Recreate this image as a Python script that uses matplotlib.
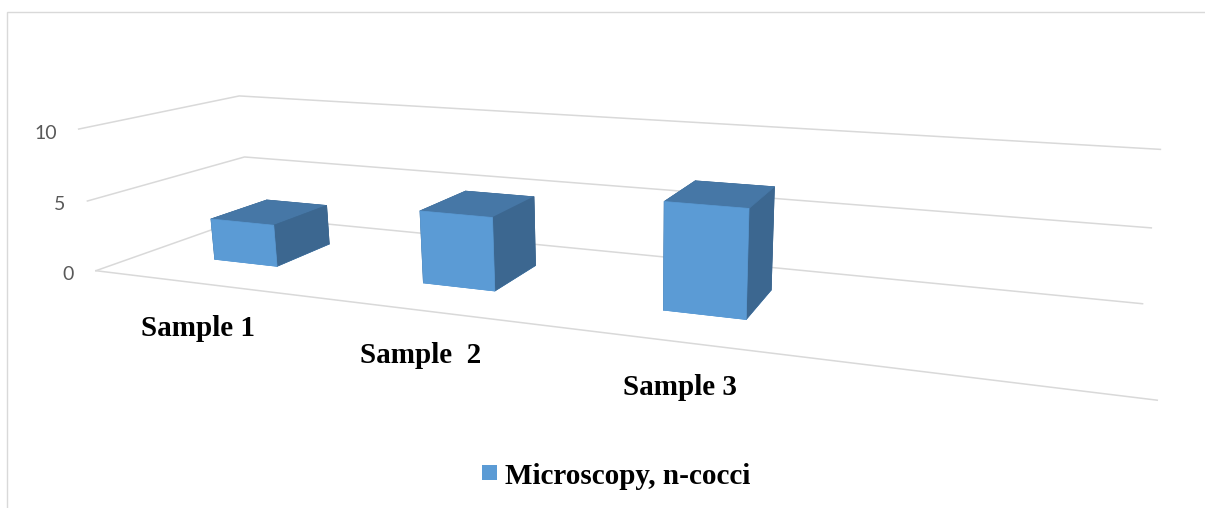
import numpy as np
import matplotlib
matplotlib.use("Agg")
import matplotlib.pyplot as plt
from matplotlib import transforms
from matplotlib.patches import Rectangle
from mpl_toolkits.mplot3d import proj3d

# ---- data ----
categories = ["Sample 1", "Sample  2", "Sample 3"]
values = [3, 5, 7]
series_name = "Microscopy, n-cocci"
value_ticks = [0, 5, 10]
n_slots = 4  # category slots along the floor; the last slot is empty

# ---- style ----
W, H = 1205, 508
front_color = "#5B9BD5"
top_color = "#4677A6"
side_color = "#3C6790"
grid_color = "#D9D9D9"
tick_color = "#595959"
bar_width = 0.313
bar_depth = 0.38
label_font = dict(family="Liberation Serif", fontweight="bold", fontsize=21, color="black")

fig = plt.figure(figsize=(W / 100, H / 100), dpi=100)
ax = fig.add_axes([0, 0, 1, 1], projection="3d", computed_zorder=False)

# gridlines on the left side wall and back wall, and the front edge of the floor
for v in value_ticks:
    ax.plot([0, 0, n_slots], [0, 1, 1], [v, v, v], color=grid_color, lw=1.1, zorder=1)
ax.plot([0, n_slots], [0, 0], [0, 0], color=grid_color, lw=1.1, zorder=1)

# the columns
n = len(values)
xs = np.arange(n) + 0.5
face_colors = []
for _ in range(n):
    # face order of bar3d: -z, +z, -y, +y, -x, +x
    face_colors += [front_color, top_color, front_color, side_color, side_color, side_color]
ax.bar3d(xs - bar_width / 2, np.full(n, 0.5 - bar_depth / 2), np.zeros(n),
         bar_width, bar_depth, values, color=face_colors, edgecolor=face_colors,
         linewidth=0.5, shade=False, zorder=2)

# box proportions and camera
kx, ky, kz = 0.1971, 0.1953, 0.01152  # relative length of one unit along x, y, z
xc, zc = 2.16, 3.34
ax.set_xlim(xc - 2.5, xc + 2.5)
ax.set_ylim(0, 1)
ax.set_zlim(zc - 7, zc + 7)
ax.set_box_aspect((5 * kx, 1 * ky, 14 * kz))
ax.view_init(elev=15, azim=-70)
ax.set_proj_type("persp", focal_length=0.1687)
ax.set_axis_off()
ax.patch.set_visible(False)
# the built-in axis texts are unused
for axis in (ax.xaxis, ax.yaxis, ax.zaxis):
    axis.label.set_visible(False)
    axis.offsetText.set_visible(False)
for t in (ax.title, ax._left_title, ax._right_title):
    t.set_visible(False)

# value labels on the left wall
for v in value_ticks:
    ax.text(0, 0, v, str(v),
            transform=transforms.offset_copy(ax.transData, fig=fig, x=-22, y=-9.5, units="dots"),
            ha="right", va="baseline", color=tick_color, fontsize=14, family="Lato")

# category labels under the floor
for x, lab in zip(xs, categories):
    ax.text(x, 0, 0, lab,
            transform=transforms.offset_copy(ax.transData, fig=fig, x=2, y=-53, units="dots"),
            ha="center", va="baseline", **label_font)

# place the plot box: corners of floor and walls -> pixel spots (from top-left)
top = value_ticks[-1]
anchors_3d = np.array([[0, 0, 0], [n_slots, 0, 0], [0, 1, top],
                       [n_slots, 1, top], [n_slots, 1, 0], [0, 0, top]], dtype=float)
anchors_px = np.array([[96, 272], [1154, 397], [238, 96],
                       [1162, 150], [1145, 304], [79, 130]], dtype=float)
fig.canvas.draw()
pos = ax.get_position()
L0 = np.array([pos.x0 * W, pos.y0 * H])
S0 = pos.width * W
px, py, _ = proj3d.proj_transform(anchors_3d[:, 0], anchors_3d[:, 1], anchors_3d[:, 2], ax.get_proj())
disp = ax.transData.transform(np.column_stack([px, py]))
nrm = (disp - L0) / S0
target = np.column_stack([anchors_px[:, 0], H - anchors_px[:, 1]])
A, b = [], []
for (nx, ny), (tx, ty) in zip(nrm, target):
    A.append([1, 0, nx]); b.append(tx)
    A.append([0, 1, ny]); b.append(ty)
Lx, Ly, S = np.linalg.lstsq(np.array(A), np.array(b), rcond=None)[0]
ax.set_position([Lx / W, Ly / H, S / W, S / H])

# chart area border (cut off at right and bottom)
fig.add_artist(Rectangle((7.5 / W, -0.5), 2.0, 0.5 + (H - 11.5) / H,
                         transform=fig.transFigure, fill=False, ec=grid_color, lw=1.0))

# legend
fig.add_artist(Rectangle((481.5 / W, (H - 479.5) / H), 15 / W, 15 / H,
                         transform=fig.transFigure, fc=front_color, ec="none"))
fig.text(505 / W, (H - 484) / H, series_name, ha="left", va="baseline", **label_font)

fig.savefig("out.png", dpi=100)
